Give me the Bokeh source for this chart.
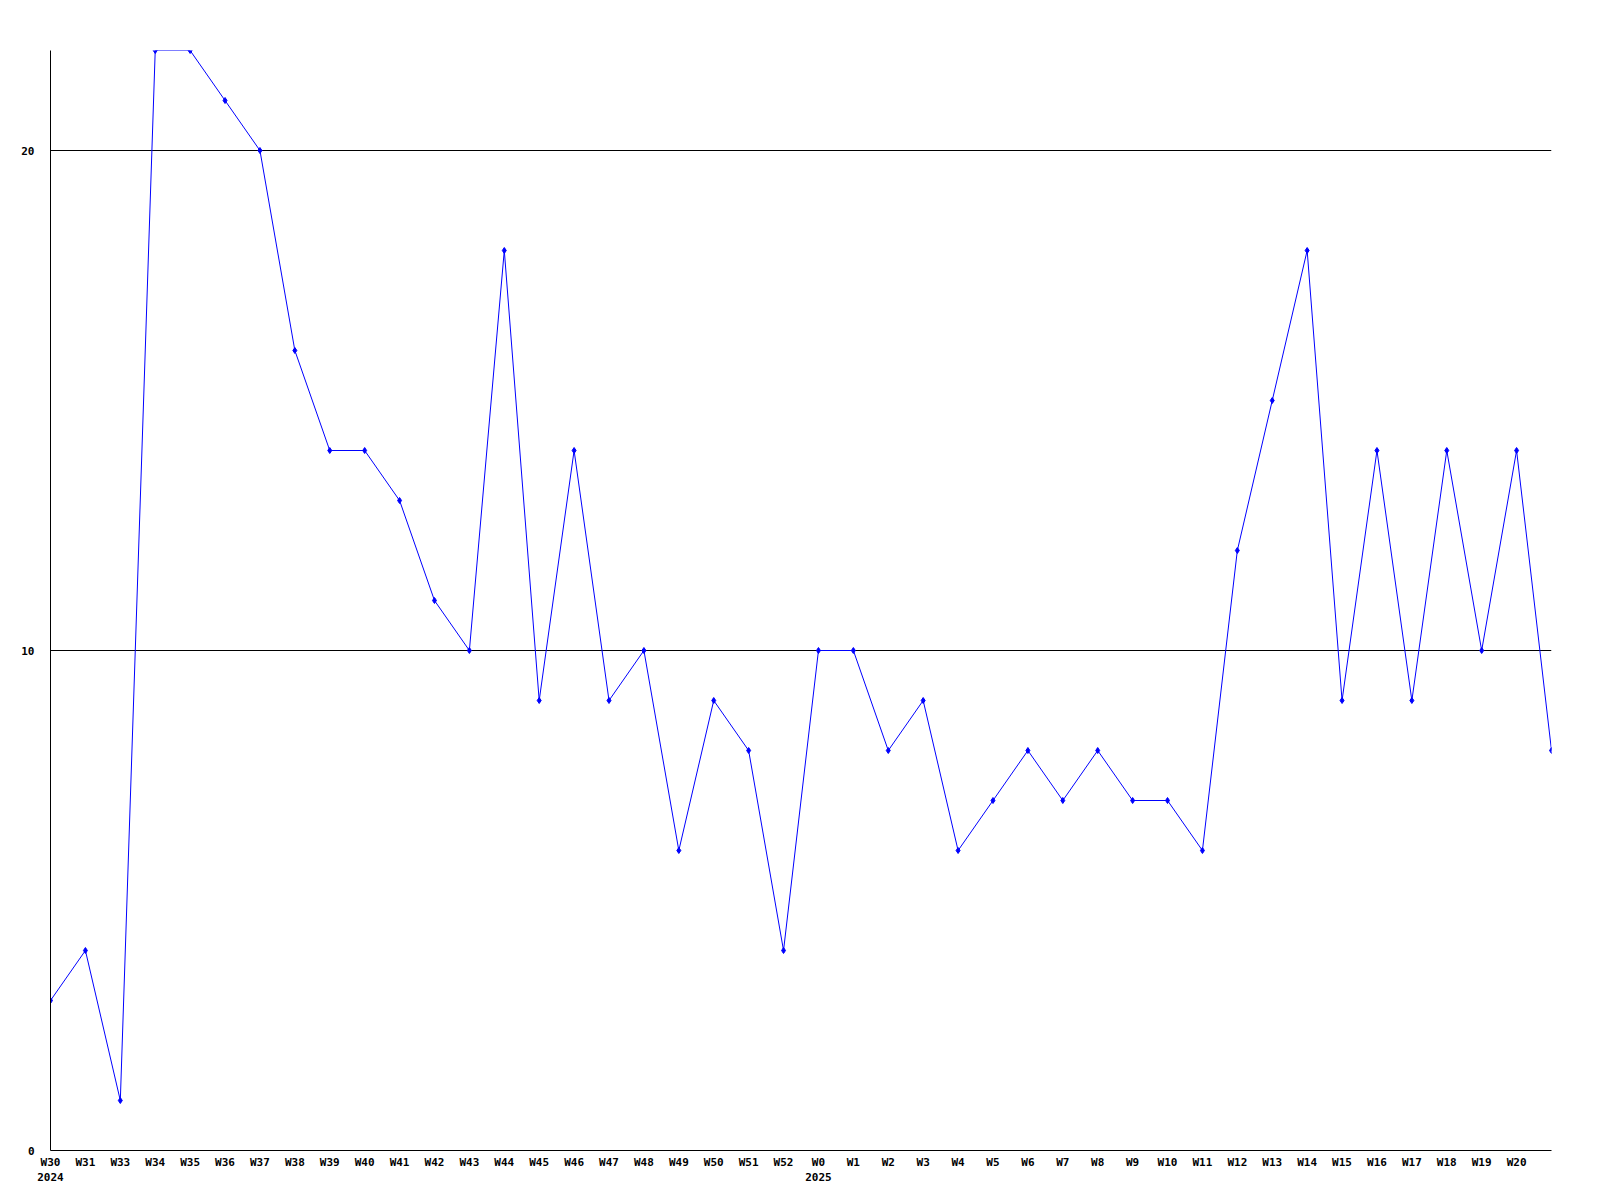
from bokeh.plotting import figure
from bokeh.models import Range1d, FixedTicker, ColumnDataSource
from bokeh.embed import file_html
from bokeh.resources import INLINE

weeks = ["W30", "W31", "W33", "W34", "W35", "W36", "W37", "W38", "W39", "W40",
         "W41", "W42", "W43", "W44", "W45", "W46", "W47", "W48", "W49", "W50",
         "W51", "W52", "W0", "W1", "W2", "W3", "W4", "W5", "W6", "W7", "W8",
         "W9", "W10", "W11", "W12", "W13", "W14", "W15", "W16", "W17", "W18",
         "W19", "W20", ""]
years = {0: "2024", 22: "2025"}
values = [3, 4, 1, 22, 22, 21, 20, 16, 14, 14,
          13, 11, 10, 18, 9, 14, 9, 10, 6, 9,
          8, 4, 10, 10, 8, 9, 6, 7, 8, 7, 8,
          7, 7, 6, 12, 15, 18, 9, 14, 9, 14,
          10, 14, 8]
y_ticks = [0, 10, 20]

xs = list(range(len(values)))
src = ColumnDataSource(dict(x=xs, y=values))

p = figure(width=1581, height=1195, output_backend="svg", toolbar_location=None,
           x_range=Range1d(0, len(values) - 1), y_range=Range1d(0, 22),
           min_border_left=50, min_border_top=50, min_border_right=30,
           min_border_bottom=45)
p.outline_line_color = None
p.background_fill_color = "white"
p.border_fill_color = "white"

p.line("x", "y", source=src, line_color="#0000ff", line_width=1)
p.scatter("x", "y", source=src, marker="diamond", size=6,
          fill_color="#0000ff", line_color="#0000ff")

font = "DejaVu Sans Mono"

xa = p.xaxis[0]
xa.ticker = FixedTicker(ticks=xs[:-1])
overrides = {}
for i, w in enumerate(weeks[:-1]):
    overrides[i] = w + ("\n" + years[i] if i in years else "")
xa.major_label_overrides = overrides
xa.major_tick_out = 0
xa.major_tick_in = 0
xa.minor_tick_out = 0
xa.minor_tick_in = 0
xa.major_label_standoff = 5
xa.axis_line_color = "black"
xa.major_label_text_font = font
xa.major_label_text_font_style = "bold"
xa.major_label_text_font_size = "11px"
xa.major_label_text_color = "black"

ya = p.yaxis[0]
ya.ticker = FixedTicker(ticks=y_ticks)
ya.major_tick_out = 0
ya.major_tick_in = 0
ya.minor_tick_out = 0
ya.minor_tick_in = 0
ya.major_label_standoff = 16
ya.axis_line_color = "black"
ya.major_label_text_font = font
ya.major_label_text_font_style = "bold"
ya.major_label_text_font_size = "11px"
ya.major_label_text_color = "black"

p.xgrid.visible = False
p.ygrid.ticker = FixedTicker(ticks=y_ticks)
p.ygrid.grid_line_color = "black"
p.ygrid.grid_line_alpha = 1.0
p.ygrid.grid_line_width = 1

open("out.html", "w").write(file_html(p, INLINE))
